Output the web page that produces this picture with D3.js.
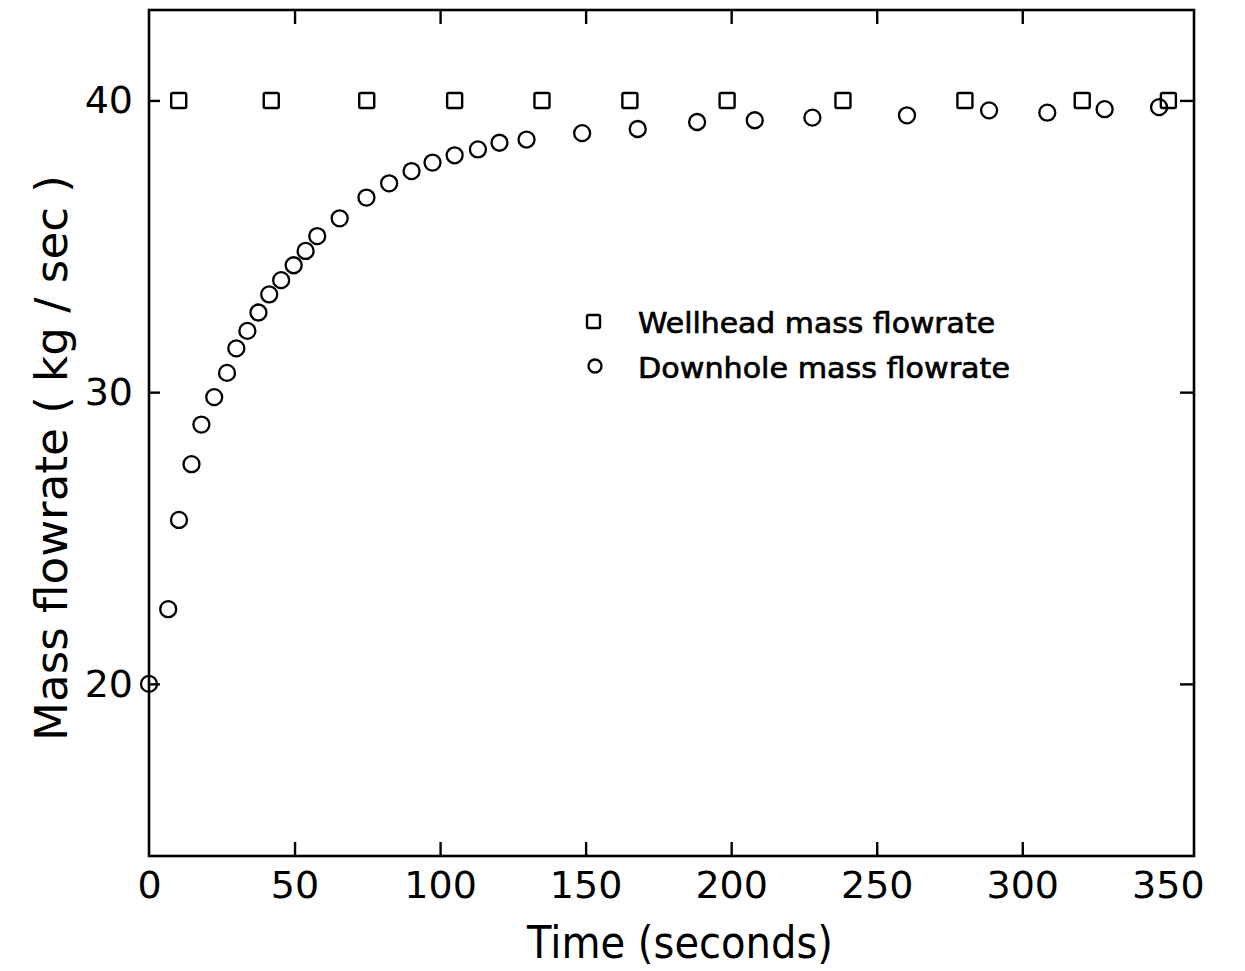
<!DOCTYPE html>
<html><head><meta charset="utf-8">
<script src="https://cdn.jsdelivr.net/npm/d3@7/dist/d3.min.js"></script>
<style>body{margin:0;background:#fff}svg{display:block}</style>
</head><body>
<svg id="c" width="1245" height="971"></svg>
<script>
// ---- data ----
const timeDownhole = [0, 6.6, 10.3, 14.6, 18.0, 22.4, 26.8, 30.0, 33.8, 37.6, 41.3, 45.4, 49.7, 53.8, 57.8, 65.5, 74.7, 82.5, 90.2, 97.4, 105.0, 113.0, 120.4, 129.7, 148.8, 167.9, 188.3, 208.1, 227.9, 260.4, 288.6, 308.6, 328.3, 347.0];
const flowDownhole = [20.0, 22.56, 25.62, 27.53, 28.89, 29.83, 30.66, 31.50, 32.10, 32.73, 33.35, 33.84, 34.35, 34.84, 35.35, 35.96, 36.67, 37.16, 37.58, 37.87, 38.12, 38.32, 38.55, 38.66, 38.88, 39.02, 39.26, 39.32, 39.41, 39.49, 39.66, 39.58, 39.70, 39.77];
const timeWellhead = [10.2, 42.0, 74.8, 105.0, 135.0, 165.2, 198.6, 238.4, 280.3, 320.6, 350.2];
const flowWellhead = [40, 40, 40, 40, 40, 40, 40, 40, 40, 40, 40];
const xTickValues = [0, 50, 100, 150, 200, 250, 300, 350];
const yTickValues = [20, 30, 40];
const xTitle = "Time (seconds)";
const yTitle = "Mass flowrate ( kg / sec )";
const legendLabels = ["Wellhead mass flowrate", "Downhole mass flowrate"];

// ---- chart ----
const svg = d3.select("#c");
const FONT = "'DejaVu Sans', sans-serif";
const x = d3.scaleLinear().domain([0, 359]).range([149, 1194]);
const y = d3.scaleLinear().domain([14.1, 43.1]).range([856, 10]);

// frame
svg.append("rect")
  .attr("x", x(0)).attr("y", y(43.1))
  .attr("width", x(359) - x(0)).attr("height", y(14.1) - y(43.1))
  .attr("fill", "none").attr("stroke", "#000").attr("stroke-width", 2.6);

function styleAxis(g) {
  g.select(".domain").remove();
  g.selectAll(".tick line").attr("stroke", "#000").attr("stroke-width", 2.4);
  g.selectAll(".tick text").attr("fill", "#000")
    .style("font-family", FONT).style("font-size", "38px").style("font-weight", "normal");
}

// bottom axis
const gb = svg.append("g").attr("transform", `translate(0,${y(14.1)})`)
  .call(d3.axisBottom(x).tickValues(xTickValues).tickSizeInner(-14).tickSizeOuter(0).tickPadding(15).tickFormat(d3.format("d")));
styleAxis(gb);
gb.selectAll(".tick").filter(d => d === 0 || d === 350).select("line").remove();

// top axis (ticks only)
const gt = svg.append("g").attr("transform", `translate(0,${y(43.1)})`)
  .call(d3.axisTop(x).tickValues(xTickValues.filter(d => d > 0 && d < 350)).tickSizeInner(-14).tickSizeOuter(0).tickFormat(""));
styleAxis(gt);

// left axis
const gl = svg.append("g").attr("transform", `translate(${x(0)},0)`)
  .call(d3.axisLeft(y).tickValues(yTickValues).tickSizeInner(-11).tickSizeOuter(0).tickPadding(16).tickFormat(d3.format("d")));
styleAxis(gl);

// right axis (ticks only)
const gr = svg.append("g").attr("transform", `translate(${x(359)},0)`)
  .call(d3.axisRight(y).tickValues(yTickValues).tickSizeInner(-14).tickSizeOuter(0).tickFormat(""));
styleAxis(gr);

// axis titles
svg.append("text").attr("x", 680).attr("y", 958).attr("text-anchor", "middle")
  .style("font-family", FONT).style("font-size", "44px").style("font-weight", "normal")
  .attr("textLength", 306).attr("lengthAdjust", "spacingAndGlyphs").text(xTitle);
svg.append("text").attr("transform", "translate(67,458) rotate(-90)").attr("text-anchor", "middle")
  .style("font-family", FONT).style("font-size", "44px").style("font-weight", "normal")
  .attr("textLength", 566).attr("lengthAdjust", "spacingAndGlyphs").text(yTitle);

// markers
const downhole = timeDownhole.map((t, i) => ({t, v: flowDownhole[i]}));
const wellhead = timeWellhead.map((t, i) => ({t, v: flowWellhead[i]}));

svg.append("g").selectAll("circle").data(downhole).join("circle")
  .attr("cx", d => x(d.t)).attr("cy", d => y(d.v)).attr("r", 8)
  .attr("fill", "none").attr("stroke", "#000").attr("stroke-width", 2.3);

const S = 15;
svg.append("g").selectAll("rect").data(wellhead).join("rect")
  .attr("x", d => x(d.t) - S / 2).attr("y", d => y(d.v) - S / 2)
  .attr("width", S).attr("height", S).attr("rx", 1.5)
  .attr("fill", "none").attr("stroke", "#000").attr("stroke-width", 2.4);

// legend
const lg = svg.append("g");
lg.append("rect").attr("x", 587).attr("y", 315).attr("width", 13).attr("height", 13).attr("rx", 1.5)
  .attr("fill", "none").attr("stroke", "#000").attr("stroke-width", 2.4);
lg.append("circle").attr("cx", 595).attr("cy", 366).attr("r", 6.5)
  .attr("fill", "none").attr("stroke", "#000").attr("stroke-width", 2.3);
[[legendLabels[0], 333, 357], [legendLabels[1], 378, 372]].forEach(([t, yy, w]) => {
  lg.append("text").attr("x", 638).attr("y", yy)
    .style("font-family", FONT).style("font-size", "29px").style("font-weight", "normal")
    .attr("stroke", "#000").attr("stroke-width", 0.7)
    .attr("textLength", w).attr("lengthAdjust", "spacingAndGlyphs").text(t);
});
</script>
</body></html>
